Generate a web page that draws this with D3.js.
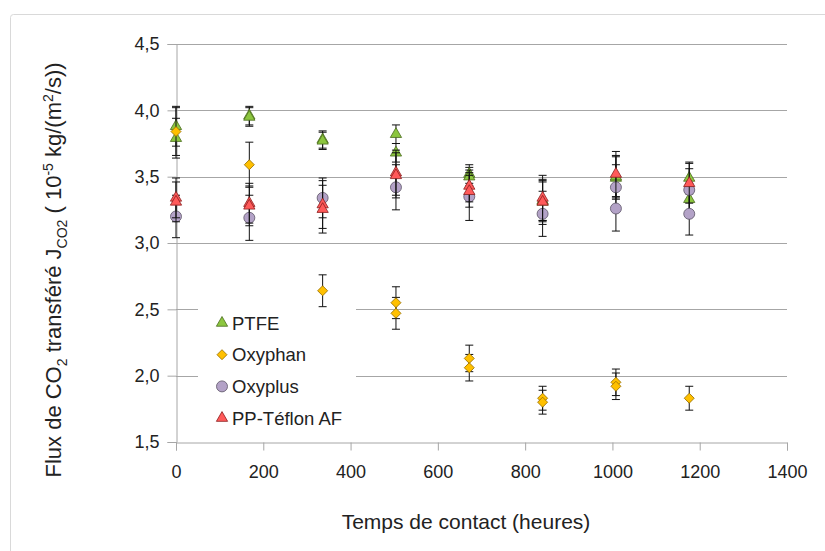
<!DOCTYPE html>
<html>
<head>
<meta charset="utf-8">
<script src="https://cdn.jsdelivr.net/npm/d3@7"></script>
<style>
  body { margin: 0; background: #fff; }
  svg text { font-family: "Liberation Sans", Arial, sans-serif; fill: #222; }
</style>
</head>
<body>
<div id="chart"></div>
<script>
// Hours of contact (one measurement per week)
const hours = [0, 168, 336, 504, 672, 840, 1008, 1176];

// Two replicates per membrane, null where only one point is visible
const ptfeA = [3.88, 3.96, 3.78, 3.82, 3.52, 3.32, 3.49, 3.49];
const ptfeB = [3.79, 3.95, 3.77, 3.68, 3.50, 3.31, 3.50, 3.33];
const ptfeErr = [0.15, 0.07, 0.065, 0.07, 0.07, 0.15, 0.16, 0.12];

const oxyphanA = [3.84, 3.59, 2.64, 2.55, 2.13, 1.83, 1.95, 1.83];
const oxyphanB = [null, null, null, 2.47, 2.06, 1.80, 1.92, null];
const oxyphanErr = [0.18, 0.17, 0.12, 0.12, 0.10, 0.09, 0.10, 0.09];

const oxyplusA = [3.20, 3.19, 3.34, 3.42, 3.35, 3.22, 3.42, 3.40];
const oxyplusB = [null, null, null, null, null, null, 3.26, 3.22];
const oxyplusErr = [0.16, 0.17, 0.15, 0.17, 0.18, 0.17, 0.17, 0.16];

const teflonA = [3.34, 3.30, 3.29, 3.53, 3.43, 3.34, 3.52, 3.45];
const teflonB = [3.31, 3.28, 3.255, 3.51, 3.39, 3.31, null, null];
const teflonErr = [0.15, 0.15, 0.18, 0.17, 0.12, 0.17, 0.17, 0.15];

const xTicks = [0, 200, 400, 600, 800, 1000, 1200, 1400];
const yTicks = [1.5, 2.0, 2.5, 3.0, 3.5, 4.0, 4.5];

const series = [
  { name: "PTFE", a: ptfeA, b: ptfeB, err: ptfeErr, shape: "triangle", fill: "#8cc63f", stroke: "#4a6b1e" },
  { name: "Oxyphan", a: oxyphanA, b: oxyphanB, err: oxyphanErr, shape: "diamond", fill: "#ffc000", stroke: "#9a7000" },
  { name: "Oxyplus", a: oxyplusA, b: oxyplusB, err: oxyplusErr, shape: "circle", fill: "#b3a2c7", stroke: "#5c5466" },
  { name: "PP-Téflon AF", a: teflonA, b: teflonB, err: teflonErr, shape: "triangle", fill: "#ff5a5a", stroke: "#8a1e1e" }
];

const width = 825, height = 551;
const margin = { left: 176, right: 38, top: 44, bottom: 109 };

const svg = d3.select("#chart").append("svg")
  .attr("width", width)
  .attr("height", height);

// light frame of the chart area
svg.append("rect")
  .attr("x", 10.5).attr("y", 14.5)
  .attr("width", 900).attr("height", 600)
  .attr("rx", 3)
  .attr("fill", "none")
  .attr("stroke", "#d9d9d9");

const x = d3.scaleLinear().domain([0, 1400]).range([margin.left, width - margin.right]);
const y = d3.scaleLinear().domain([1.5, 4.5]).range([height - margin.bottom, margin.top]);

const grey = "#a6a6a6";

// gridlines
svg.append("g")
  .selectAll("line")
  .data(yTicks.filter(v => v > 1.5))
  .join("line")
  .attr("x1", x(0)).attr("x2", x(1400))
  .attr("y1", d => Math.round(y(d)) + 0.5).attr("y2", d => Math.round(y(d)) + 0.5)
  .attr("stroke", grey);

const fmt = d => d3.format(".1f")(d).replace(".", ",");

const yAxis = svg.append("g")
  .attr("transform", `translate(${Math.round(x(0)) + 0.5},0)`)
  .call(d3.axisLeft(y).tickValues(yTicks).tickFormat(fmt).tickSize(9).tickPadding(8));

const xAxis = svg.append("g")
  .attr("transform", `translate(0,${Math.round(y(1.5)) + 0.5})`)
  .call(d3.axisBottom(x).tickValues(xTicks).tickFormat(d3.format("d")).tickSize(8).tickPadding(15));

[xAxis, yAxis].forEach(g => {
  g.select(".domain").attr("stroke", grey);
  g.selectAll(".tick line").attr("stroke", grey);
  g.selectAll(".tick text").style("font-size", "18px").attr("fill", "#222");
});

// legend background hides gridlines behind it
const legendX = 222, legendY = 323, legendStep = 31.7;
svg.append("rect")
  .attr("x", 198).attr("y", 296)
  .attr("width", 158).attr("height", 138)
  .attr("fill", "#fff");

const symbolFor = shape => {
  if (shape === "triangle") return d3.symbol().type(d3.symbolTriangle).size(55)();
  if (shape === "circle") return d3.symbol().type(d3.symbolCircle).size(95)();
  return d3.symbol().type(d3.symbolSquare).size(50)();
};

function drawMarker(g, s, cx, cy) {
  g.append("path")
    .attr("d", symbolFor(s.shape))
    .attr("transform", `translate(${cx},${cy})` + (s.shape === "diamond" ? " rotate(45)" : ""))
    .attr("fill", s.fill)
    .attr("stroke", s.stroke)
    .attr("stroke-width", 0.8);
}

// points + error bars, series drawn in order
const plot = svg.append("g");
series.forEach(s => {
  const pts = [];
  hours.forEach((h, i) => {
    if (s.a[i] != null) pts.push({ h, v: s.a[i], e: s.err[i] });
    if (s.b[i] != null) pts.push({ h, v: s.b[i], e: s.err[i] });
  });
  const g = plot.append("g");
  pts.forEach(p => {
    const cx = x(p.h);
    const top = y(p.v + p.e), bot = y(p.v - p.e);
    g.append("line").attr("x1", cx).attr("x2", cx).attr("y1", top).attr("y2", bot)
      .attr("stroke", "#111").attr("stroke-width", 1);
    [top, bot].forEach(cy => {
      g.append("line").attr("x1", cx - 4).attr("x2", cx + 4).attr("y1", cy).attr("y2", cy)
        .attr("stroke", "#111").attr("stroke-width", 1);
    });
  });
  pts.forEach(p => drawMarker(g, s, x(p.h), y(p.v)));
});

// legend
series.forEach((s, i) => {
  const g = svg.append("g");
  drawMarker(g, s, legendX, legendY + i * legendStep);
  g.append("text")
    .attr("x", legendX + 10)
    .attr("y", legendY + i * legendStep + 6.5)
    .style("font-size", "18.5px")
    .text(s.name);
});

// axis titles
svg.append("text")
  .attr("x", 466).attr("y", 529)
  .attr("text-anchor", "middle")
  .style("font-size", "21px")
  .text("Temps de contact (heures)");

const yt = svg.append("text")
  .attr("transform", "translate(61,270) rotate(-90)")
  .attr("text-anchor", "middle")
  .style("font-size", "22px");
yt.append("tspan").text("Flux de CO");
yt.append("tspan").attr("dy", 6).style("font-size", "14px").text("2");
yt.append("tspan").attr("dy", -6).text(" transféré  J");
yt.append("tspan").attr("dy", 6).style("font-size", "14px").text("CO2");
yt.append("tspan").attr("dy", -6).text(" ( 10");
yt.append("tspan").attr("dy", -8).style("font-size", "14px").text("-5");
yt.append("tspan").attr("dy", 8).text(" kg/(m");
yt.append("tspan").attr("dy", -8).style("font-size", "14px").text("2");
yt.append("tspan").attr("dy", 8).text("/s))");
</script>
</body>
</html>
